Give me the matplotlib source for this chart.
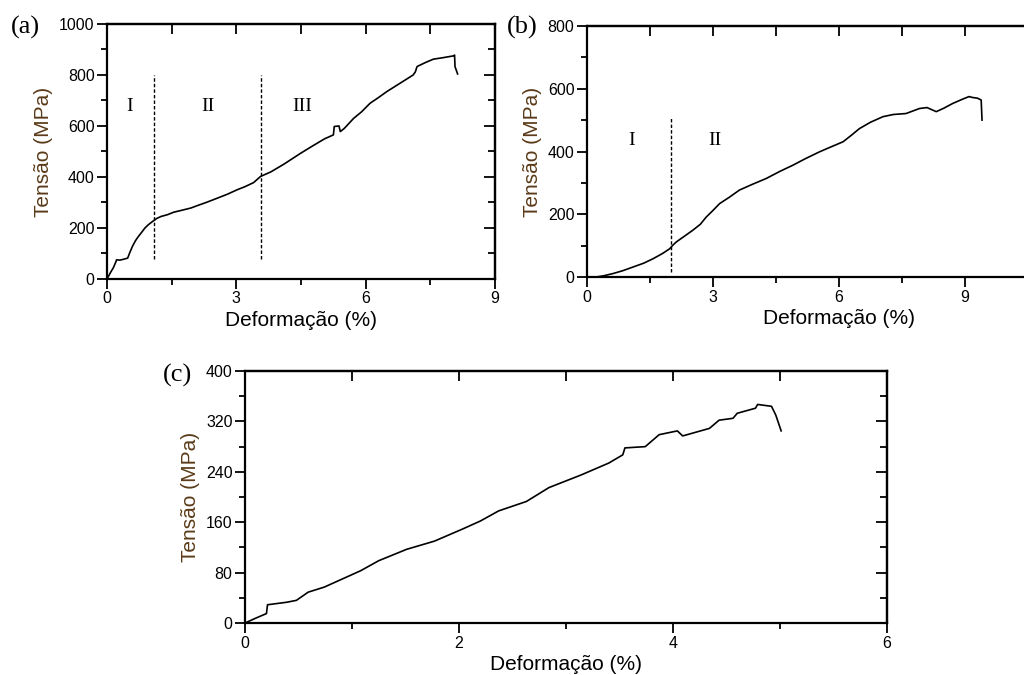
import numpy as np
import matplotlib
matplotlib.use("Agg")
from matplotlib import pyplot as plt
from matplotlib.ticker import MultipleLocator, FixedLocator

# ---- data (strain %, stress MPa) ----
a_strain = [0.0, 0.08, 0.15, 0.21, 0.22, 0.30, 0.40, 0.48, 0.52, 0.59, 0.66, 0.72, 0.79,
            0.88, 0.96, 1.06, 1.15, 1.25, 1.40, 1.55, 1.70, 1.94, 2.10, 2.30, 2.56,
            2.80, 3.02, 3.20, 3.40, 3.56, 3.80, 4.10, 4.49, 4.80, 5.05, 5.25, 5.27,
            5.38, 5.41, 5.50, 5.72, 5.90, 6.10, 6.30, 6.49, 6.80, 7.10, 7.15, 7.19,
            7.40, 7.57, 7.80, 8.04, 8.06, 8.07, 8.13]
a_stress = [0, 25, 45, 69, 75, 74, 78, 82, 100, 128, 150, 165, 180,
            200, 213, 226, 237, 245, 252, 262, 268, 278, 288, 300, 317,
            333, 350, 362, 378, 402, 420, 450, 493, 525, 550, 565, 598,
            600, 578, 590, 630, 655, 689, 712, 735, 768, 800, 812, 833,
            850, 862, 868, 875, 878, 833, 804]

b_strain = [0.22, 0.40, 0.62, 0.85, 1.10, 1.35, 1.57, 1.80, 1.97, 2.05, 2.13, 2.30,
            2.52, 2.70, 2.84, 3.00, 3.16, 3.40, 3.63, 3.95, 4.27, 4.60, 4.90,
            5.20, 5.54, 5.80, 6.10, 6.30, 6.49, 6.75, 7.05, 7.30, 7.60, 7.92,
            8.10, 8.32, 8.50, 8.71, 8.95, 9.10, 9.19, 9.30, 9.39, 9.41]
b_stress = [0, 4, 11, 20, 32, 44, 58, 75, 90, 102, 112, 128,
            149, 168, 191, 212, 234, 255, 277, 296, 314, 337, 356,
            377, 399, 414, 431, 452, 473, 493, 511, 518, 521, 537,
            540, 527, 538, 553, 567, 575, 572, 570, 564, 500]

c_strain = [0.0, 0.09, 0.20, 0.21, 0.30, 0.39, 0.48, 0.59, 0.74, 0.91, 1.08, 1.25,
            1.51, 1.77, 2.03, 2.20, 2.37, 2.63, 2.84, 3.14, 3.40, 3.53, 3.55,
            3.74, 3.87, 4.04, 4.09, 4.34, 4.43, 4.56, 4.60, 4.77, 4.79, 4.92,
            4.96, 5.01]
c_stress = [0, 7, 15, 29, 31, 33, 36, 49, 57, 70, 83, 99,
            117, 130, 149, 162, 178, 193, 215, 235, 254, 267, 278,
            280, 299, 305, 297, 309, 322, 325, 333, 341, 347, 344,
            330, 305]

a_bounds = [1.10, 3.58]
a_regions = ["I", "II", "III"]
a_region_x = [0.52, 2.33, 4.53]
b_bounds = [2.01]
b_regions = ["I", "II"]
b_region_x = [1.06, 3.04]

plt.rcParams["font.family"] = ["Liberation Sans", "DejaVu Sans"]
plt.rcParams["font.size"] = 11

fig = plt.figure(figsize=(10.24, 6.75), dpi=100)
label_color = "#5a3a18"


def style_axes(ax, xmaj, xmin, ymaj, ymin, xlabels=None):
    if xlabels is None:
        ax.xaxis.set_major_locator(MultipleLocator(xmaj))
    else:
        ax.xaxis.set_major_locator(FixedLocator(xlabels))
    ax.xaxis.set_minor_locator(MultipleLocator(xmin))
    ax.yaxis.set_major_locator(MultipleLocator(ymaj))
    ax.yaxis.set_minor_locator(MultipleLocator(ymin))
    ax.tick_params(which="both", direction="out", width=1.3, top=False, right=False)
    ax.tick_params(which="major", length=7, labelsize=11.5, pad=2)
    ax.tick_params(which="minor", length=4)
    for s in ax.spines.values():
        s.set_linewidth(1.6)
    # inward mirror ticks on top and right
    top = ax.secondary_xaxis("top")
    top.xaxis.set_major_locator(MultipleLocator(xmin))
    top.tick_params(direction="in", length=7, width=1.3, labeltop=False)
    top.spines["top"].set_linewidth(1.6)
    right = ax.secondary_yaxis("right")
    right.yaxis.set_major_locator(MultipleLocator(ymaj))
    right.yaxis.set_minor_locator(MultipleLocator(ymin))
    right.tick_params(which="both", direction="in", width=1.3, labelright=False)
    right.tick_params(which="major", length=8)
    right.tick_params(which="minor", length=5)
    right.spines["right"].set_linewidth(1.6)
    ax.set_xlabel("Deformação (%)", fontsize=15, labelpad=3)
    ax.set_ylabel("Tensão (MPa)", fontsize=15, color=label_color, labelpad=4)


# (a)
ax_a = fig.add_axes([0.1045, 0.5867, 0.379, 0.3778])
ax_a.plot(a_strain, a_stress, color="black", lw=1.2)
for xb in a_bounds:
    ax_a.plot([xb, xb], [80, 800], color="black", lw=1.0, ls=(0, (2.5, 1.5)))
for txt, xr in zip(a_regions, a_region_x):
    ax_a.text(xr, 676, txt, family="Liberation Serif", fontsize=14, ha="center", va="center")
ax_a.set_xlim(0, 9)
ax_a.set_ylim(0, 1000)
style_axes(ax_a, 3, 1.5, 200, 100)

# (b) - axes runs past the right edge of the figure as in the reference
ax_b = fig.add_axes([0.5732, 0.5896, 0.492, 0.3719])
ax_b.plot(b_strain, b_stress, color="black", lw=1.2)
for xb in b_bounds:
    ax_b.plot([xb, xb], [16, 510], color="black", lw=1.0, ls=(0, (2.5, 1.5)))
for txt, xr in zip(b_regions, b_region_x):
    ax_b.text(xr, 436, txt, family="Liberation Serif", fontsize=14, ha="center", va="center")
ax_b.set_xlim(0, 12)
ax_b.set_ylim(0, 800)
style_axes(ax_b, 3, 1.5, 200, 100, xlabels=[0, 3, 6, 9])

# (c)
ax_c = fig.add_axes([0.2393, 0.077, 0.627, 0.3733])
ax_c.plot(c_strain, c_stress, color="black", lw=1.2)
ax_c.set_xlim(0, 6)
ax_c.set_ylim(0, 400)
style_axes(ax_c, 2, 1, 80, 40)

for lab, (x, y) in zip(["(a)", "(b)", "(c)"], [(25, 27), (522, 27), (177, 375)]):
    fig.text(x / 1024, 1 - y / 675, lab, family="Liberation Serif", fontsize=19,
             ha="center", va="center")

fig.savefig("out.png", dpi=100)
